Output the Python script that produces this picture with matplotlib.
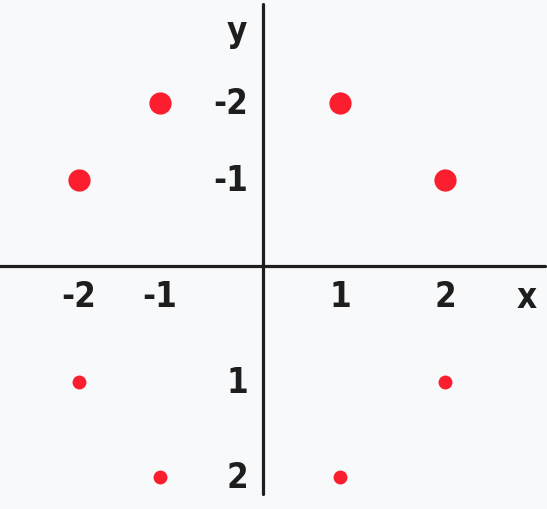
import matplotlib.pyplot as plt
import matplotlib.transforms as mtransforms
import numpy as np

# points (x, y) -- y axis runs downward (negative at the top)
big_x = [-2, -1, 1, 2]
big_y = [-1, -2, -2, -1]
small_x = [-2, -1, 1, 2]
small_y = [1, 2, 2, 1]

xtick_vals = [-2, -1, 1, 2]
ytick_vals = [-2, -1, 1, 2]

bg = '#f8f9fa'
red = '#fa1e2e'
ink = '#1e1e1e'
font = dict(family='DejaVu Sans', fontstretch='condensed', fontweight='bold',
            fontsize=25, color=ink)

# hand drawn axes: unit spacing is not even, so map through anchor pixels
x_data = [-6, -2, -1, 0, 1, 2, 6]
x_pix = [-267 - 360, 79, 160, 263, 340, 445, 445 + 420]
y_data = [-6, -2, -1, 0, 1, 2, 6]
y_pix = [104 - 320, 104, 181, 267, 383, 478, 478 + 380]


def fx(v):
    return np.interp(v, x_data, x_pix)


def fx_inv(p):
    return np.interp(p, x_pix, x_data)


def fy(v):
    return np.interp(v, y_data, y_pix)


def fy_inv(p):
    return np.interp(p, y_pix, y_data)


fig = plt.figure(figsize=(5.47, 5.10), dpi=100, facecolor=bg)
ax = fig.add_axes([0, 0, 1, 1])
ax.set_facecolor(bg)
ax.set_xscale('function', functions=(fx, fx_inv))
ax.set_yscale('function', functions=(fy, fy_inv))
ax.set_xlim(fx_inv(0), fx_inv(547))
ax.set_ylim(fy_inv(510), fy_inv(0))

# axes lines
ax.axhline(0, xmin=0, xmax=545 / 547, color=ink, lw=2.3, solid_capstyle='round')
ax.axvline(0, ymin=1 - 495 / 510, ymax=1 - 5 / 510, color=ink, lw=2.3,
           solid_capstyle='round')

ax.plot(big_x, big_y, 'o', color=red, ms=16, mec='none')
ax.plot(small_x, small_y, 'o', color=red, ms=10, mec='none')

tx = mtransforms.blended_transform_factory(ax.transData, ax.transAxes)
ty = mtransforms.blended_transform_factory(ax.transAxes, ax.transData)
for v in xtick_vals:
    ax.text(v, 1 - 297 / 510, str(v), transform=tx, ha='center', va='center', **font)
for v in ytick_vals:
    ax.text(248 / 547, v, str(v), transform=ty, ha='right', va='center', **font)

ax.text(237 / 547, 1 - 32 / 510, 'y', transform=ax.transAxes, ha='center', va='center', **font)
ax.text(527 / 547, 1 - 298 / 510, 'x', transform=ax.transAxes, ha='center', va='center', **font)

ax.axis('off')
fig.savefig('out.png', dpi=100, facecolor=bg)
